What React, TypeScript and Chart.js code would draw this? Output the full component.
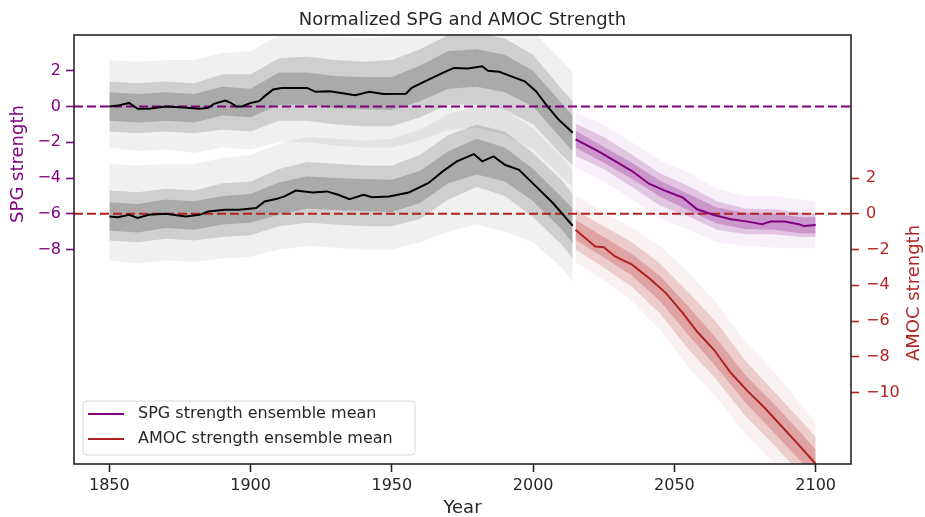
import React, { useEffect, useRef } from 'react';
import { Chart, registerables } from 'chart.js';
Chart.register(...registerables);

const FONT = '"DejaVu Sans", sans-serif';
const DARK = '#262626';
const PURPLE = '#800080';
const RED = '#b22222';

const TITLE = 'Normalized SPG and AMOC Strength';
const X_LABEL = 'Year';
const SPG_LABEL = 'SPG strength';
const AMOC_LABEL = 'AMOC strength';
const LEGEND_LABELS = ['SPG strength ensemble mean', 'AMOC strength ensemble mean'];

const X_TICKS = [1850, 1900, 1950, 2000, 2050, 2100];
const SPG_TICKS = [2, 0, -2, -4, -6, -8];
const AMOC_TICKS = [2, 0, -2, -4, -6, -8, -10];

// Historical ensemble means (black)
const spgHistYears = [1850, 1853, 1857, 1860, 1864, 1870, 1876, 1882, 1885, 1887, 1891, 1893, 1895, 1897, 1900, 1903, 1905, 1908, 1911, 1920, 1923, 1928, 1932, 1937, 1942, 1947, 1955, 1957, 1963, 1968, 1972, 1977, 1982, 1984, 1988, 1993, 1997, 2001, 2005, 2009, 2014];
const spgHistMean = [0.0, 0.05, 0.2, -0.13, -0.13, 0.0, -0.05, -0.13, -0.07, 0.15, 0.33, 0.2, 0.0, 0.0, 0.2, 0.3, 0.58, 0.95, 1.04, 1.04, 0.82, 0.85, 0.76, 0.63, 0.82, 0.7, 0.71, 1.04, 1.5, 1.88, 2.16, 2.12, 2.25, 2.0, 1.94, 1.64, 1.41, 0.86, 0.02, -0.73, -1.47];

const amocHistYears = [1850, 1853, 1857, 1860, 1864, 1870, 1877, 1882, 1885, 1891, 1896, 1902, 1905, 1909, 1912, 1916, 1922, 1927, 1931, 1935, 1940, 1943, 1949, 1956, 1963, 1968, 1973, 1979, 1982, 1986, 1990, 1995, 2001, 2007, 2014];
const amocHistMean = [-0.15, -0.19, -0.06, -0.24, -0.06, 0.0, -0.15, -0.06, 0.13, 0.22, 0.22, 0.32, 0.69, 0.82, 0.97, 1.3, 1.19, 1.25, 1.06, 0.82, 1.06, 0.93, 0.97, 1.19, 1.72, 2.37, 2.93, 3.34, 2.93, 3.21, 2.74, 2.46, 1.53, 0.6, -0.67];

// Future ensemble means
const spgFutYears = [2015, 2023, 2029, 2035, 2041, 2047, 2053, 2058, 2064, 2070, 2076, 2081, 2084, 2089, 2094, 2096, 2100];
const spgFutMean = [-1.84, -2.5, -3.06, -3.61, -4.32, -4.73, -5.1, -5.75, -6.07, -6.31, -6.44, -6.59, -6.44, -6.44, -6.59, -6.69, -6.63];

const amocFutYears = [2015, 2022, 2025, 2029, 2035, 2041, 2047, 2053, 2058, 2064, 2070, 2076, 2082, 2088, 2094, 2100];
const amocFutMean = [-0.9, -1.83, -1.87, -2.39, -2.85, -3.6, -4.44, -5.56, -6.59, -7.61, -8.91, -9.94, -10.87, -11.9, -12.93, -14.0];

// Ensemble spread envelopes: core, dense and faint outer members
const histBandYears = [1850, 1860, 1870, 1880, 1890, 1900, 1910, 1920, 1930, 1940, 1950, 1960, 1970, 1980, 1990, 2000, 2010, 2014];
const spgHistCoreHi = [0.8, 0.7, 0.8, 0.7, 1.1, 1.0, 1.9, 1.9, 1.7, 1.65, 1.65, 2.3, 3.1, 3.2, 2.9, 2.0, 0.2, -0.5];
const spgHistCoreLo = [-0.8, -0.9, -0.8, -0.9, -0.5, -0.6, 0.1, 0.1, -0.1, -0.15, -0.2, 0.3, 1.0, 1.1, 0.8, 0.0, -1.8, -2.5];
const spgHistInnerHi = [1.4, 1.3, 1.4, 1.3, 1.8, 1.8, 2.7, 2.8, 2.6, 2.5, 2.6, 3.2, 4.0, 4.1, 3.8, 2.9, 1.0, 0.3];
const spgHistInnerLo = [-1.4, -1.5, -1.4, -1.5, -1.3, -1.4, -0.8, -0.8, -1.0, -1.1, -1.1, -0.6, 0.1, 0.1, -0.2, -1.0, -2.7, -3.3];
const spgHistOuterHi = [2.6, 2.5, 2.6, 2.6, 3.0, 3.1, 4.0, 4.2, 3.9, 3.8, 3.9, 4.4, 4.5, 4.5, 4.5, 4.2, 2.6, 1.9];
const spgHistOuterLo = [-2.3, -2.5, -2.4, -2.6, -2.3, -2.4, -2.0, -2.0, -2.2, -2.3, -2.3, -1.9, -1.3, -1.2, -1.6, -2.4, -3.9, -4.5];

const amocHistCoreHi = [0.65, 0.55, 0.8, 0.7, 1.0, 1.1, 1.75, 2.1, 2.0, 1.95, 1.9, 2.4, 3.5, 4.2, 3.7, 2.5, 0.95, 0.3];
const amocHistCoreLo = [-0.95, -1.05, -0.8, -0.9, -0.6, -0.5, -0.05, 0.3, 0.2, 0.15, 0.1, 0.6, 1.7, 2.2, 1.8, 0.7, -0.85, -1.65];
const amocHistInnerHi = [1.3, 1.2, 1.4, 1.3, 1.7, 1.8, 2.5, 2.9, 2.8, 2.7, 2.7, 3.3, 4.4, 5.0, 4.6, 3.4, 1.9, 1.1];
const amocHistInnerLo = [-1.5, -1.6, -1.4, -1.5, -1.3, -1.2, -0.7, -0.5, -0.6, -0.7, -0.7, -0.3, 0.8, 1.5, 1.0, -0.2, -1.7, -2.5];
const amocHistOuterHi = [2.8, 2.7, 2.8, 2.8, 3.1, 3.3, 3.9, 4.3, 4.2, 4.1, 4.2, 4.7, 5.6, 6.0, 5.8, 4.8, 3.2, 2.4];
const amocHistOuterLo = [-2.6, -2.8, -2.6, -2.7, -2.5, -2.4, -2.0, -1.8, -1.9, -2.0, -2.0, -1.6, -1.0, -0.6, -1.0, -1.6, -3.0, -3.8];

const futBandYears = [2015, 2025, 2035, 2045, 2055, 2065, 2075, 2085, 2095, 2100];
const spgFutCoreHi = [-1.35, -2.25, -3.15, -4.15, -4.9, -5.65, -5.95, -6.0, -6.2, -6.2];
const spgFutCoreLo = [-2.3, -3.15, -4.05, -5.05, -5.8, -6.55, -6.85, -6.9, -7.1, -7.1];
const spgFutInnerHi = [-0.95, -1.7, -2.7, -3.75, -4.45, -5.3, -5.7, -5.75, -5.95, -6.0];
const spgFutInnerLo = [-2.75, -3.5, -4.5, -5.55, -6.15, -6.9, -7.15, -7.15, -7.3, -7.3];
const spgFutOuterHi = [-0.3, -1.0, -2.0, -3.0, -3.7, -4.6, -5.0, -5.0, -5.2, -5.3];
const spgFutOuterLo = [-3.4, -4.2, -5.2, -6.3, -6.9, -7.6, -7.8, -7.9, -7.95, -7.9];

const amocFutCoreHi = [-0.35, -1.3, -2.25, -3.5, -5.2, -7.0, -9.0, -10.6, -12.3, -13.2];
const amocFutCoreLo = [-1.45, -2.45, -3.45, -4.9, -6.8, -8.6, -10.55, -12.2, -13.9, -14.8];
const amocFutInnerHi = [0.2, -0.7, -1.6, -2.8, -4.4, -6.1, -8.2, -9.9, -11.6, -12.5];
const amocFutInnerLo = [-2.0, -3.0, -4.1, -5.6, -7.6, -9.3, -11.3, -12.9, -14.6, -15.5];
const amocFutOuterHi = [1.0, 0.1, -0.8, -1.8, -3.3, -5.0, -7.1, -8.8, -10.7, -11.7];
const amocFutOuterLo = [-2.7, -3.7, -4.9, -6.5, -8.6, -10.3, -12.3, -13.9, -15.5, -16.3];

const X_MIN = 1837.5;
const X_MAX = 2112.5;
const REF_ZERO = 0;

function pts(xs: number[], ys: number[]) {
  return xs.map((x, i) => ({ x, y: ys[i] }));
}

function band(xs: number[], lo: number[], hi: number[], axis: string, color: string, order: number): any[] {
  return [
    { data: pts(xs, lo), yAxisID: axis, borderColor: 'transparent', borderWidth: 0, pointRadius: 0, fill: false, order },
    { data: pts(xs, hi), yAxisID: axis, borderColor: 'transparent', borderWidth: 0, pointRadius: 0, fill: '-1', backgroundColor: color, order },
  ];
}

function meanLine(xs: number[], ys: number[], axis: string, color: string): any {
  return { data: pts(xs, ys), yAxisID: axis, borderColor: color, borderWidth: 2, pointRadius: 0, fill: false, order: 0, tension: 0 };
}

function refLine(axis: string, color: string): any {
  return { data: pts([X_MIN, X_MAX], [REF_ZERO, REF_ZERO]), yAxisID: axis, borderColor: color, borderWidth: 2, borderDash: [9, 4], pointRadius: 0, fill: false, order: 1 };
}

const minus = (v: number) => String(v).replace('-', '\u2212');

const decorPlugin = {
  id: 'decor',
  afterDatasetsDraw(chart: any) {
    const { ctx, chartArea: a } = chart;
    ctx.save();
    ctx.strokeStyle = DARK;
    ctx.lineWidth = 1.6;
    ctx.strokeRect(a.left, a.top, a.right - a.left, a.bottom - a.top);
    ctx.restore();
  },
  afterDraw(chart: any) {
    const { ctx, chartArea: a } = chart;
    ctx.save();
    ctx.textBaseline = 'middle';
    ctx.textAlign = 'center';
    ctx.font = `18px ${FONT}`;
    ctx.fillStyle = DARK;
    ctx.fillText(TITLE, (a.left + a.right) / 2, 20);
    ctx.fillText(X_LABEL, (a.left + a.right) / 2, 508);

    ctx.save();
    ctx.translate(18, 164);
    ctx.rotate(-Math.PI / 2);
    ctx.fillStyle = PURPLE;
    ctx.fillText(SPG_LABEL, 0, 0);
    ctx.restore();

    ctx.save();
    ctx.translate(914, 293);
    ctx.rotate(-Math.PI / 2);
    ctx.fillStyle = RED;
    ctx.fillText(AMOC_LABEL, 0, 0);
    ctx.restore();

    // legend
    const bx = 83, by = 401, bw = 332, bh = 54, r = 4;
    ctx.beginPath();
    ctx.moveTo(bx + r, by);
    ctx.arcTo(bx + bw, by, bx + bw, by + bh, r);
    ctx.arcTo(bx + bw, by + bh, bx, by + bh, r);
    ctx.arcTo(bx, by + bh, bx, by, r);
    ctx.arcTo(bx, by, bx + bw, by, r);
    ctx.closePath();
    ctx.fillStyle = 'rgba(255,255,255,0.85)';
    ctx.fill();
    ctx.strokeStyle = '#d6d6d6';
    ctx.lineWidth = 1;
    ctx.stroke();

    const colors = [PURPLE, RED];
    ctx.font = `16px ${FONT}`;
    ctx.textAlign = 'left';
    LEGEND_LABELS.forEach((lab, i) => {
      const y = 414 + i * 25;
      ctx.strokeStyle = colors[i];
      ctx.lineWidth = 2;
      ctx.beginPath();
      ctx.moveTo(88, y);
      ctx.lineTo(124, y);
      ctx.stroke();
      ctx.fillStyle = DARK;
      ctx.fillText(lab, 138, y);
    });
    ctx.restore();
  },
};

export default function App() {
  const ref = useRef<HTMLCanvasElement>(null);
  useEffect(() => {
    if (!ref.current) return;
    const gray = (a: number) => `rgba(0,0,0,${a})`;
    const purp = (a: number) => `rgba(128,0,128,${a})`;
    const red = (a: number) => `rgba(178,34,34,${a})`;
    const datasets: any[] = [
      meanLine(spgHistYears, spgHistMean, 'y', '#000000'),
      meanLine(amocHistYears, amocHistMean, 'y2', '#000000'),
      meanLine(spgFutYears, spgFutMean, 'y', PURPLE),
      meanLine(amocFutYears, amocFutMean, 'y2', RED),
      refLine('y', PURPLE),
      refLine('y2', RED),
      ...band(histBandYears, spgHistCoreLo, spgHistCoreHi, 'y', gray(0.18), 4),
      ...band(histBandYears, spgHistInnerLo, spgHistInnerHi, 'y', gray(0.14), 5),
      ...band(histBandYears, spgHistOuterLo, spgHistOuterHi, 'y', gray(0.06), 6),
      ...band(histBandYears, amocHistCoreLo, amocHistCoreHi, 'y2', gray(0.18), 4),
      ...band(histBandYears, amocHistInnerLo, amocHistInnerHi, 'y2', gray(0.14), 5),
      ...band(histBandYears, amocHistOuterLo, amocHistOuterHi, 'y2', gray(0.06), 6),
      ...band(futBandYears, spgFutCoreLo, spgFutCoreHi, 'y', purp(0.24), 4),
      ...band(futBandYears, spgFutInnerLo, spgFutInnerHi, 'y', purp(0.18), 5),
      ...band(futBandYears, spgFutOuterLo, spgFutOuterHi, 'y', purp(0.06), 6),
      ...band(futBandYears, amocFutCoreLo, amocFutCoreHi, 'y2', red(0.24), 4),
      ...band(futBandYears, amocFutInnerLo, amocFutInnerHi, 'y2', red(0.18), 5),
      ...band(futBandYears, amocFutOuterLo, amocFutOuterHi, 'y2', red(0.06), 6),
    ];
    const chart = new Chart(ref.current, {
      type: 'line',
      data: { datasets },
      plugins: [decorPlugin],
      options: {
        animation: false,
        responsive: true,
        maintainAspectRatio: false,
        parsing: true,
        layout: { padding: { top: 35, left: 0, right: 0, bottom: 0 } },
        plugins: { legend: { display: false }, tooltip: { enabled: false }, title: { display: false } },
        scales: {
          x: {
            type: 'linear',
            min: X_MIN,
            max: X_MAX,
            afterBuildTicks: (s: any) => { s.ticks = X_TICKS.map((v) => ({ value: v })); },
            afterFit: (s: any) => { s.height = 53; },
            border: { display: false },
            grid: { drawOnChartArea: false, drawTicks: true, tickLength: 8, tickWidth: 1.6, tickColor: DARK },
            ticks: { color: DARK, font: { family: FONT, size: 16 }, padding: 4, maxRotation: 0, callback: (v: any) => String(v) },
          },
          y: {
            type: 'linear',
            position: 'left',
            min: -20,
            max: 4,
            afterBuildTicks: (s: any) => { s.ticks = SPG_TICKS.map((v) => ({ value: v })); },
            afterFit: (s: any) => { s.width = 74; },
            border: { display: false },
            grid: { drawOnChartArea: false, drawTicks: true, tickLength: 8, tickWidth: 1.6, tickColor: PURPLE },
            ticks: { color: PURPLE, font: { family: FONT, size: 16 }, padding: 5, callback: (v: any) => minus(v) },
          },
          y2: {
            type: 'linear',
            position: 'right',
            min: -14,
            max: 10,
            afterBuildTicks: (s: any) => { s.ticks = AMOC_TICKS.map((v) => ({ value: v })); },
            afterFit: (s: any) => { s.width = 74; },
            border: { display: false },
            grid: { drawOnChartArea: false, drawTicks: true, tickLength: 8, tickWidth: 1.6, tickColor: RED },
            ticks: { color: RED, font: { family: FONT, size: 16 }, padding: 7, callback: (v: any) => minus(v) },
          },
        },
      },
    });
    return () => chart.destroy();
  }, []);
  return (
    <div style={{ position: 'absolute', left: 0, top: 0, width: 925, height: 517 }}>
      <canvas ref={ref} />
    </div>
  );
}
